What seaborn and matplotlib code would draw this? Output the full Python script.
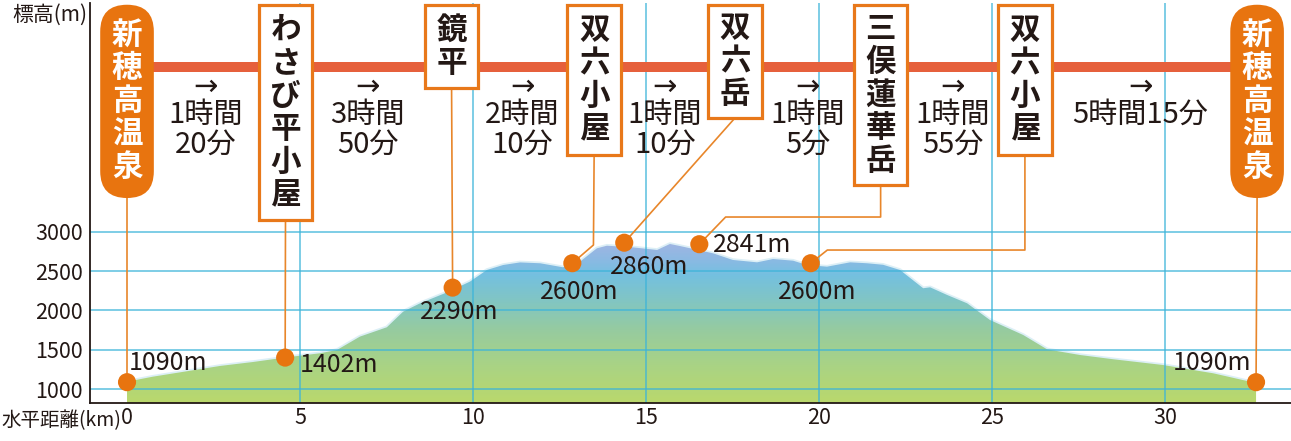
import numpy as np
import matplotlib
matplotlib.use("Agg")
import matplotlib.pyplot as plt
import seaborn as sns
from matplotlib.colors import LinearSegmentedColormap, Normalize
from matplotlib.patches import FancyBboxPatch, PathPatch

# elevation profile (km, m)
dist_km = [0.00, 0.75, 2.69, 3.64, 4.62, 5.58, 6.07, 6.73, 7.51, 7.98, 8.47, 9.25,
           9.91, 10.40, 10.87, 11.36, 11.94, 12.60, 13.09, 13.58, 13.87, 14.62, 15.32,
           15.69, 15.98, 16.94, 17.51, 18.21, 18.67, 19.25, 19.65, 20.23, 20.90, 21.39,
           21.85, 22.34, 23.01, 23.21, 23.70, 24.28, 24.94, 25.90, 26.59, 27.54, 28.50,
           29.94, 31.39, 32.37, 32.63]
elev_m = [1096, 1160, 1296, 1346, 1406, 1457, 1499, 1668, 1787, 1985, 2091, 2230,
          2366, 2514, 2577, 2610, 2599, 2548, 2619, 2789, 2822, 2801, 2768,
          2844, 2818, 2725, 2641, 2611, 2653, 2632, 2577, 2556, 2611, 2599,
          2580, 2514, 2282, 2294, 2197, 2091, 1879, 1689, 1507, 1435, 1381,
          1308, 1203, 1105, 1090]

station_names = ["新穂高温泉", "わさび平小屋", "鏡平", "双六小屋", "双六岳", "三俣蓮華岳", "双六小屋", "新穂高温泉"]
station_km = [0.0, 4.57, 9.41, 12.87, 14.37, 16.54, 19.76, 32.63]
station_elev = [1090, 1402, 2290, 2600, 2860, 2841, 2600, 1090]
station_is_end = [True, False, False, False, False, False, False, True]

segment_times = [["1時間", "20分"], ["3時間", "50分"], ["2時間", "10分"], ["1時間", "10分"],
                 ["1時間", "5分"], ["1時間", "55分"], ["5時間15分"]]

yticks = [1000, 1500, 2000, 2500, 3000]
xticks = [0, 5, 10, 15, 20, 25, 30]

# layout (data units: km / m)
XLIM = (-1.07, 33.64)
YLIM = (822, 5902)
box_center_km = [0.0, 4.58, 9.38, 13.50, 17.57, 21.78, 25.95, 32.66]
box_bottom_m = [3427, 3148, 4823, 3973, 4443, 3593, 3973, 3427]
box_top_m = 5880
box_w_km = 1.55
char_step_m = 419
route_m = 5090
leader_bends = [[], [], [], [(13.48, 2831)], [], [(17.30, 3186), (21.78, 3186)],
                [(20.24, 2767), (25.95, 2767)], []]
label_pos = [(0.05, 1334, "left"), (4.99, 1308, "left"), (9.61, 1985, "center"),
             (13.08, 2239, "center"), (15.10, 2556, "center"), (16.92, 2831, "left"),
             (19.94, 2239, "center"), (32.50, 1334, "right")]
seg_center_km = [2.27, 6.95, 11.43, 15.54, 19.67, 23.86, 29.29]
seg_rows_m = [4836, 4481, 4100]

TXT = "#231815"
ORANGE = "#E8740F"
BORDER = "#E8781A"
LEADER = "#E8862A"
ROUTE = "#E6603C"
GRID = "#3DB4D9"

sns.set_theme(style="white")
plt.rcParams["font.family"] = ["Noto Sans CJK JP", "DejaVu Sans"]

fig = plt.figure(figsize=(12.91, 4.41), dpi=100)
ax = fig.add_axes([90 / 1291, 37.7 / 441, 1 - 90 / 1291, 400.3 / 441])

# gradient-filled terrain
grad_stops = [822, 1300, 1750, 2150, 2450, 2650, 2900]
grad_colors = ["#BAD86C", "#A9D385", "#96CBA0", "#80C5C6", "#74C0E0", "#8CB9E3", "#A4B4E2"]
cmap = LinearSegmentedColormap.from_list(
    "elev", [((s - grad_stops[0]) / (grad_stops[-1] - grad_stops[0]), c) for s, c in zip(grad_stops, grad_colors)])
sns.lineplot(x=dist_km, y=elev_m, color="#DCEFF6", lw=2.5, ax=ax, zorder=1)
fill = ax.fill_between(dist_km, elev_m, YLIM[0], color="none", lw=0)
clip = PathPatch(fill.get_paths()[0], transform=ax.transData, fc="none", ec="none")
ax.add_patch(clip)
grad = np.linspace(grad_stops[0], grad_stops[-1], 300).reshape(-1, 1)
im = ax.imshow(grad, cmap=cmap, norm=Normalize(grad_stops[0], grad_stops[-1]), origin="lower",
               extent=[dist_km[0], dist_km[-1], grad_stops[0], grad_stops[-1]], aspect="auto", zorder=2)
im.set_clip_path(clip)

# grid
ax.hlines(yticks, XLIM[0], XLIM[1], color=GRID, lw=1.1, alpha=0.85, zorder=3)
ax.vlines(xticks[1:], YLIM[0], YLIM[1], color=GRID, lw=1.1, alpha=0.85, zorder=3)

# route bar
ax.plot([box_center_km[0], box_center_km[-1]], [route_m, route_m], color=ROUTE, lw=7.2,
        solid_capstyle="butt", zorder=4)

# leader lines
for i in range(len(station_km)):
    pts = [(station_km[i], station_elev[i])] + leader_bends[i] + [(box_center_km[i], box_bottom_m[i])]
    xs, ys = zip(*pts)
    ax.plot(xs, ys, color=LEADER, lw=1.2, zorder=5)

# station boxes
rsize = box_w_km / 2
aspect = ((YLIM[1] - YLIM[0]) / 400.3) / ((XLIM[1] - XLIM[0]) / 1201)
for i, name in enumerate(station_names):
    cx = box_center_km[i]
    bot = box_bottom_m[i]
    if station_is_end[i]:
        p = FancyBboxPatch((cx - box_w_km / 2, bot), box_w_km, box_top_m - bot,
                           boxstyle=f"round,pad=0,rounding_size={rsize}", mutation_aspect=aspect,
                           fc=ORANGE, ec="none", zorder=6, clip_on=False)
        tcol = "white"
    else:
        p = FancyBboxPatch((cx - box_w_km / 2, bot), box_w_km, box_top_m - bot,
                           boxstyle="square,pad=0", fc="white", ec=BORDER, lw=2.3, zorder=6,
                           clip_on=False)
        tcol = TXT
    ax.add_patch(p)
    mid = (bot + box_top_m) / 2
    n = len(name)
    for k, ch in enumerate(name):
        y = mid + ((n - 1) / 2 - k) * char_step_m
        ax.text(cx, y, ch, ha="center", va="center", fontsize=22, fontweight="bold",
                color=tcol, zorder=7)

# walking times
for cx, rows in zip(seg_center_km, segment_times):
    ax.text(cx, seg_rows_m[0], "→", ha="center", va="center", fontsize=21, color=TXT, zorder=7,
            family=["DejaVu Sans"])
    for r, line in enumerate(rows):
        ax.text(cx, seg_rows_m[r + 1], line, ha="center", va="center", fontsize=21, color=TXT, zorder=7)

# points and elevation labels
sns.scatterplot(x=station_km, y=station_elev, s=170, color=ORANGE, edgecolor="none",
                ax=ax, zorder=8, legend=False)
for (lx, ly, ha), e in zip(label_pos, station_elev):
    ax.text(lx, ly, f"{e}m", ha=ha, va="center", fontsize=18, color=TXT, zorder=9)

ax.set_xlim(*XLIM)
ax.set_ylim(*YLIM)
ax.set_xticks(xticks)
ax.set_yticks(yticks)
ax.tick_params(length=0, labelsize=15.5, labelcolor=TXT)
ax.tick_params(axis="y", pad=5)
ax.tick_params(axis="x", pad=3)
ax.grid(False)
for s in ["top", "right"]:
    ax.spines[s].set_visible(False)
for s in ["left", "bottom"]:
    ax.spines[s].set_color(TXT)
    ax.spines[s].set_linewidth(1.3)
    ax.spines[s].set_zorder(10)

fig.text(12 / 1291, 1 - 15 / 441, "標高(m)", ha="left", va="center", fontsize=15, color=TXT)
fig.text(1 / 1291, 1 - 421 / 441, "水平距離(km)", ha="left", va="center", fontsize=14, color=TXT)

fig.savefig("out.png", dpi=100)
